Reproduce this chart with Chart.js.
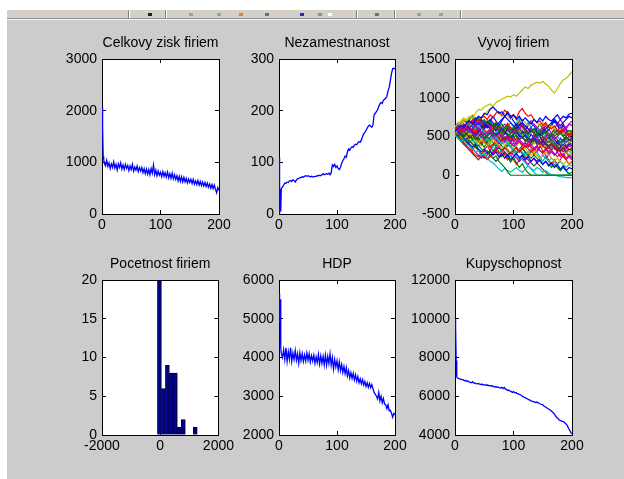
<!DOCTYPE html>
<html>
<head>
<meta charset="utf-8">
<script src="https://cdn.jsdelivr.net/npm/chart.js"></script>
<style>
  html, body { margin: 0; padding: 0; }
  html { background: #fff; }
  body { width: 624px; height: 500px; background: #fff; position: relative; overflow: hidden; }
  #toolbar { position: absolute; left: 7px; top: 10px; width: 617px; height: 8px; background: #d4d0c8; border-bottom: 1px solid #909090; }
  #figure { position: absolute; left: 7px; top: 19px; width: 617px; height: 481px; background: #cccccc; border-top: 1px solid #f4f4f4; }
  .sep { position: absolute; top: 0; width: 1px; height: 8px; background: #808080; border-right: 1px solid #fff; }
  .ico { position: absolute; top: 3px; width: 4px; height: 3px; }
  canvas { position: absolute; }
</style>
</head>
<body>
<div id="toolbar">
  <div class="sep" style="left:121px"></div>
  <div class="sep" style="left:158px"></div>
  <div class="sep" style="left:349px"></div>
  <div class="sep" style="left:387px"></div>
  <div class="sep" style="left:453px"></div>
  <div class="ico" style="left:141px;background:#202020"></div>
  <div class="ico" style="left:182px;background:#a0a0a0"></div>
  <div class="ico" style="left:210px;background:#a0a0a0"></div>
  <div class="ico" style="left:232px;background:#e08040"></div>
  <div class="ico" style="left:258px;background:#607090"></div>
  <div class="ico" style="left:293px;background:#2030d0"></div>
  <div class="ico" style="left:311px;background:#909090"></div>
  <div class="ico" style="left:321px;background:#ffffff"></div>
  <div class="ico" style="left:368px;background:#707070"></div>
  <div class="ico" style="left:410px;background:#a0a0a0"></div>
  <div class="ico" style="left:432px;background:#a0a0a0"></div>
</div>
<div id="figure"></div>
<script>
// time steps of the simulation (x axis for the aggregate series)
const steps = [0, 1, 2, 3, 4,
  6, 8, 10, 12, 14, 16, 18, 20, 22, 24,
  26, 28, 30, 32, 34, 36, 38, 40, 42, 44,
  46, 48, 50, 52, 54, 56, 58, 60, 62, 64,
  66, 68, 70, 72, 74, 76, 78, 80, 82, 84,
  86, 88, 90, 92, 94, 96, 98, 100, 102, 104,
  106, 108, 110, 112, 114, 116, 118, 120, 122, 124,
  126, 128, 130, 132, 134, 136, 138, 140, 142, 144,
  146, 148, 150, 152, 154, 156, 158, 160, 162, 164,
  166, 168, 170, 172, 174, 176, 178, 180, 182, 184,
  186, 188, 190, 192, 194, 196, 198, 200];

// Celkovy zisk firiem
const profitValues = [2050, 1700, 1120, 1050, 980,
  930, 1040, 920, 990, 880, 970, 900, 1010, 890, 960,
  850, 970, 900, 990, 870, 950, 860, 960, 880, 940,
  840, 930, 860, 960, 830, 910, 850, 930, 820, 900,
  830, 900, 800, 880, 780, 870, 770, 860, 760, 880,
  790, 950, 760, 850, 740, 830, 750, 810, 720, 820,
  730, 800, 710, 810, 700, 780, 690, 790, 680, 760,
  670, 740, 640, 730, 630, 720, 620, 710, 620, 690,
  600, 680, 610, 670, 590, 670, 580, 640, 570, 650,
  560, 630, 550, 620, 540, 610, 530, 600, 520, 580,
  500, 570, 490, 560, 480, 410, 510, 460];

// Nezamestnanost
const unemploymentValues = [110, 0, 48, 5, 50,
  52, 56, 60, 59, 62, 61, 64, 65, 63, 66,
  65, 62, 66, 68, 69, 70, 71, 72, 71, 73,
  74, 73, 74, 73, 72, 73, 72, 72, 73, 73,
  74, 74, 75, 74, 76, 78, 76, 77, 78, 77,
  79, 76, 80, 95, 92, 96, 90, 93, 88, 86,
  90, 98, 103, 107, 112, 110, 120, 126, 124, 128,
  130, 129, 133, 135, 134, 138, 140, 139, 143, 150,
  155, 158, 162, 166, 170, 172, 170, 168, 172, 192,
  195, 198, 202, 208, 213, 216, 214, 220, 222, 224,
  228, 238, 245, 258, 272, 281, 282, 281];

// HDP
const gdpValues = [5650, 4900, 5500, 4250, 4100,
  4000, 4200, 3950, 4250, 3900, 4150, 3950, 4250, 3900, 4120,
  3950, 4180, 3930, 4100, 3850, 4120, 3920, 4100, 3900, 4070,
  3910, 4120, 3930, 4100, 3880, 4050, 3910, 4060, 3850, 4020,
  3870, 4080, 3830, 4040, 3850, 4030, 3810, 4060, 3800, 4030,
  3850, 4100, 3800, 4000, 3700, 3950, 3760, 3920, 3680, 3890,
  3660, 3820, 3610, 3770, 3580, 3740, 3520, 3660, 3470, 3610,
  3460, 3590, 3420, 3550, 3390, 3510, 3350, 3450, 3320, 3430,
  3290, 3380, 3250, 3350, 3230, 3330, 3220, 3300, 3200, 3100,
  3050, 3000, 2930, 3100, 2880, 3000, 2830, 2940, 2800, 2780,
  2680, 2780, 2630, 2640, 2560, 2460, 2560, 2520];

// Kupyschopnost
const purchasingValues = [10000, 9600, 7850, 7000, 6950,
  6920, 6900, 6880, 6850, 6860, 6800, 6820, 6760, 6800, 6740,
  6720, 6700, 6750, 6680, 6690, 6650, 6640, 6660, 6620, 6600,
  6630, 6580, 6590, 6600, 6560, 6580, 6540, 6560, 6520, 6540,
  6500, 6480, 6500, 6460, 6470, 6440, 6420, 6460, 6400, 6450,
  6380, 6350, 6300, 6320, 6260, 6250, 6200, 6240, 6180, 6200,
  6150, 6120, 6100, 6080, 6020, 5980, 5960, 5920, 5900, 5860,
  5820, 5800, 5760, 5740, 5720, 5700, 5680, 5700, 5660, 5640,
  5600, 5580, 5560, 5500, 5460, 5420, 5380, 5340, 5300, 5260,
  5200, 5150, 5080, 4980, 4900, 4850, 4780, 4760, 4720, 4700,
  4680, 4620, 4560, 4480, 4350, 4250, 4120, 4060];

// Vyvoj firiem: every 5th step
const firmSteps = [0, 5, 10, 15, 20, 25, 30, 35, 40, 45, 50, 55, 60, 65, 70, 75, 80, 85, 90, 95,
  100, 105, 110, 115, 120, 125, 130, 135, 140, 145, 150, 155, 160, 165, 170, 175, 180, 185, 190, 195, 200];

const firmPaths = [
  [560,600,640,610,680,700,660,720,760,740, 800,780,850,880,840,800,820,760,800,740, 780,720,760,700,740,700,660,720,680,740, 700,760,720,700,740,780,720,760,740,790, 800],
  [540,500,520,470,430,450,400,360,390,340, 300,320,260,220,250,180,140,100,40,0, 0,0,0,0,0,0,0,0,0,0, 0,0,0,0,0,0,0,0,0,0, 0],
  [580,620,560,600,650,700,680,720,690,740, 760,720,780,740,800,820,780,840,800,760, 780,740,820,860,800,760,780,720,680,700, 640,680,620,600,640,580,560,600,540,520, 560],
  [520,480,440,460,400,380,340,300,320,260, 280,220,180,160,120,80,50,90,60,40, 70,100,60,40,80,120,90,60,100,80, 40,60,30,10,0,-10,-20,-20,-30,-30, -30],
  [600,640,620,580,620,560,600,640,600,560, 520,560,600,540,500,540,480,440,480,420, 460,400,440,380,420,360,400,340,380,320, 300,340,280,320,260,300,240,280,220,260, 240],
  [520,600,650,700,720,760,740,800,850,840, 880,900,920,890,940,960,980,1000,1020,1010, 1040,1020,1060,1100,1140,1120,1160,1180,1200,1190, 1210,1180,1150,1100,1060,1120,1180,1230,1250,1290, 1340],
  [560,520,560,500,540,480,520,460,500,540, 480,520,560,500,540,480,520,460,500,440, 480,520,460,500,440,480,420,460,400,440, 380,420,360,400,340,380,320,360,300,340, 320],
  [600,560,520,480,440,400,360,400,340,300, 340,280,320,260,300,240,280,220,260,200, 240,280,220,260,200,240,180,220,160,200, 140,180,120,160,100,140,80,120,60,100, 80],
  [580,620,660,700,680,720,760,700,740,680, 720,660,700,640,680,620,660,600,640,580, 620,560,600,540,580,520,560,600,540,580, 520,560,500,540,580,520,560,500,540,580, 560],
  [540,500,460,420,380,340,300,260,240,280, 240,200,240,280,320,280,320,360,320,280, 320,360,300,340,380,340,300,340,380,420, 380,340,380,420,380,340,300,340,380,420, 400],
  [560,600,640,600,640,680,640,600,640,600, 560,520,560,520,480,440,400,440,400,360, 320,280,240,200,160,120,80,40,0,0, 0,0,0,0,0,0,0,0,0,0, 0],
  [620,580,540,580,620,580,540,500,540,500, 460,500,540,500,460,420,460,500,460,420, 380,420,460,420,380,420,460,500,460,420, 460,500,540,500,460,500,540,580,540,500, 520],
  [500,540,500,460,500,540,500,460,420,460, 420,380,420,460,420,380,340,380,340,300, 340,380,420,380,340,300,260,300,260,220, 260,300,260,220,180,220,180,140,180,140, 160],
  [580,540,580,620,580,620,660,620,580,620, 660,700,660,620,660,620,580,620,580,540, 580,620,660,620,580,540,580,540,500,540, 580,540,500,460,500,460,420,460,500,460, 480],
  [560,600,560,600,640,600,560,520,560,600, 640,680,720,680,640,680,720,760,720,680, 640,600,640,680,640,600,560,600,560,520, 560,600,640,680,720,680,640,680,720,760, 740],
  [540,580,540,500,540,580,540,500,460,500, 540,500,540,580,620,580,540,580,540,500, 540,500,460,500,460,420,460,500,540,500, 540,580,540,500,540,580,540,500,460,500, 480],
  [600,560,600,560,520,480,520,480,440,400, 440,400,360,400,440,480,440,480,520,480, 440,480,440,400,360,400,360,320,360,320, 280,320,360,320,280,240,280,240,200,240, 220],
  [580,620,580,540,500,540,500,460,420,460, 420,380,420,460,500,460,420,460,420,380, 340,300,340,300,260,300,340,300,260,220, 260,220,180,220,180,140,180,140,100,140, 120],
  [540,580,620,660,620,660,700,740,700,660, 700,660,620,660,620,580,620,660,620,580, 540,580,620,580,540,580,620,660,620,580, 620,580,540,500,540,580,620,580,620,660, 640],
  [620,660,700,740,700,740,780,740,700,740, 780,820,860,880,840,800,760,800,760,720, 760,720,680,720,680,640,680,720,680,640, 680,640,600,640,600,560,600,560,520,560, 540],
  [560,520,480,440,480,440,400,360,320,280, 240,220,260,220,180,220,260,300,260,300, 340,300,340,380,420,380,420,460,420,460, 500,460,420,460,420,380,420,460,420,460, 440],
  [600,640,600,640,600,560,600,640,680,640, 600,640,600,560,520,560,600,560,520,480, 520,560,520,480,520,480,440,480,440,400, 440,400,360,400,360,320,360,400,360,400, 380],
  [540,500,540,580,540,500,460,500,460,420, 460,500,460,420,380,420,380,340,380,420, 380,340,300,340,300,260,220,260,220,180, 140,180,140,100,140,100,60,100,60,20, 40],
  [580,620,660,620,580,620,580,540,580,620, 580,540,580,540,500,540,580,540,580,620, 580,620,660,620,580,540,580,540,500,540, 500,460,500,540,500,540,580,540,500,540, 520],
  [540,500,540,500,460,420,460,420,380,420, 460,500,460,500,540,580,540,580,620,580, 540,580,540,500,540,500,460,500,460,500, 540,500,460,420,460,500,460,420,460,420, 440],
  [580,540,500,460,420,380,340,300,260,220, 260,300,260,300,340,380,340,300,260,300, 260,220,180,220,180,140,180,220,180,220, 260,220,260,300,260,300,340,300,340,380, 360],
  [600,640,680,720,680,640,680,720,680,640, 600,560,600,560,520,480,520,480,440,480, 520,560,520,480,520,480,440,400,440,400, 360,400,440,400,360,320,360,320,280,320, 300],
  [520,480,440,400,360,320,280,240,200,250, 220,260,300,280,320,360,320,360,400,360, 320,280,320,280,240,200,160,120,160,120, 80,40,0,0,0,0,0,0,0,0, 0],
  [580,640,590,660,610,690,630,700,650,720, 660,610,680,630,570,640,590,530,600,540, 610,560,500,570,520,460,530,480,550,500, 440,510,460,520,470,410,480,430,500,450, 470],
  [560,500,580,520,460,530,470,410,480,420, 360,430,380,310,370,300,240,300,230,170, 230,160,100,150,80,30,0,0,0,0, 0,0,0,0,0,0,0,0,0,0, 0],
  [600,660,610,550,620,680,620,560,630,690, 640,700,650,590,660,600,540,610,670,610, 550,620,560,500,570,510,450,520,460,400, 470,410,350,420,360,300,370,310,380,320, 340],
  [540,600,660,600,540,480,540,600,540,480, 420,480,420,360,420,360,300,360,300,240, 300,240,180,240,300,240,300,360,300,240, 180,240,180,120,180,120,60,120,60,0, 0],
  [600,540,600,660,600,660,720,660,600,540, 600,660,600,540,480,540,480,420,480,540, 600,540,600,660,600,540,600,540,480,540, 600,660,600,540,600,660,720,660,600,660, 700],
  [560,620,560,500,440,500,440,380,440,380, 440,500,440,500,560,500,440,380,440,380, 320,380,440,380,440,500,440,500,560,500, 440,380,440,500,440,380,320,380,320,260, 300],
  [620,560,500,560,620,680,620,680,740,680, 620,680,620,560,620,560,500,560,500,440, 500,440,500,560,500,440,380,440,500,440, 380,440,380,320,380,440,380,440,380,320, 360],
  [580,520,580,520,460,520,580,640,580,640, 700,640,700,760,700,640,700,760,820,760, 700,640,700,640,580,640,700,640,580,520, 580,640,580,640,700,640,580,640,580,520, 560],
  [600,660,600,540,600,540,480,540,600,540, 480,420,480,540,480,420,480,540,600,540, 600,660,600,660,600,540,600,540,600,660, 600,540,600,660,720,660,600,660,600,540, 580],
  [560,500,440,500,440,380,320,380,320,260, 320,380,320,380,440,380,320,260,200,260, 200,140,200,260,200,260,320,260,320,380, 320,260,200,140,200,140,200,260,200,140, 180],
  [620,680,620,560,620,680,620,560,500,560, 500,440,500,560,500,560,620,560,620,680, 620,680,740,680,620,680,620,560,620,560, 500,440,500,440,380,440,380,320,380,320, 260],
  [540,600,540,480,540,600,660,600,540,600, 540,480,420,480,420,360,420,480,420,360, 420,360,300,360,300,240,300,360,300,360, 420,360,300,360,420,360,300,240,300,240, 200]
];

// Pocetnost firiem (histogram of firm values)
const binCenters = [-27, 110, 247, 383, 520, 657, 794, 931, 1068, 1204];
const binCounts = [20, 6, 9, 8, 8, 1, 2, 0, 0, 1];

const FONT = "'Liberation Sans', Arial, sans-serif";
const matlabColors = ['#0000ff', '#008000', '#ff0000', '#00bfbf', '#bf00bf', '#bfbf00', '#404040'];

Chart.defaults.animation = false;
Chart.defaults.font.family = FONT;
Chart.defaults.color = '#000';

// white axes background
const plotBackground = {
  id: 'plotBackground',
  beforeDraw(chart) {
    const { ctx, chartArea } = chart;
    ctx.save();
    ctx.fillStyle = '#fff';
    ctx.fillRect(chartArea.left, chartArea.top, chartArea.width, chartArea.height);
    ctx.restore();
  }
};

// canvas around an axes box: 60px left, 22px right, 25px title, 30px x labels
function addCanvas(boxLeft, boxTop, boxWidth) {
  const c = document.createElement('canvas');
  c.width = boxWidth + 82;
  c.height = 210;
  c.style.left = (boxLeft - 60) + 'px';
  c.style.top = (boxTop - 25) + 'px';
  document.body.appendChild(c);
  return c;
}

// matlab style box with inward ticks on all four sides
function boxScales(xr, yr) {
  const tickFont = { family: FONT, size: 14 };
  const grid = { color: '#000', lineWidth: 1, drawOnChartArea: false, drawTicks: true, tickLength: -4, offset: false };
  const border = { display: true, color: '#000', width: 1 };
  const fmt = v => String(v);
  return {
    x: {
      type: 'linear', axis: 'x', position: 'bottom', min: xr[0], max: xr[1], offset: false, grid, border,
      ticks: { stepSize: xr[2], font: tickFont, color: '#000', padding: 7, maxRotation: 0, autoSkip: false, callback: fmt },
      afterFit: s => { s.height = 30; }
    },
    xTop: {
      type: 'linear', axis: 'x', position: 'top', min: xr[0], max: xr[1], offset: false, grid, border,
      ticks: { stepSize: xr[2], display: false },
      afterFit: s => { s.height = 0; }
    },
    y: {
      type: 'linear', axis: 'y', position: 'left', min: yr[0], max: yr[1], grid, border,
      ticks: { stepSize: yr[2], font: tickFont, color: '#000', padding: 9, autoSkip: false, callback: fmt },
      afterFit: s => { s.width = 60; }
    },
    yRight: {
      type: 'linear', axis: 'y', position: 'right', min: yr[0], max: yr[1], grid, border,
      ticks: { stepSize: yr[2], display: false },
      afterFit: s => { s.width = 22; }
    }
  };
}

function titleOptions(text) {
  return {
    display: true, text, fullSize: false, color: '#000',
    font: { family: FONT, size: 14, weight: 'normal', lineHeight: 1 },
    padding: { top: 2, bottom: 9 }
  };
}

function lineChart(box, title, datasets, xr, yr) {
  return new Chart(addCanvas(box[0], box[1], box[2]), {
    type: 'line',
    data: { datasets },
    options: {
      responsive: false,
      events: [],
      layout: { padding: 0 },
      elements: { point: { radius: 0 }, line: { tension: 0 } },
      plugins: { legend: { display: false }, tooltip: { enabled: false }, title: titleOptions(title) },
      scales: boxScales(xr, yr)
    },
    plugins: [plotBackground]
  });
}

function single(xs, ys) {
  return [{ data: xs.map((x, i) => ({ x, y: ys[i] })), borderColor: '#0000ff', borderWidth: 1.3 }];
}

// top row
lineChart([102, 59, 117], 'Celkovy zisk firiem', single(steps, profitValues), [0, 200, 100], [0, 3000, 1000]);
lineChart([279, 59, 116], 'Nezamestnanost', single(steps, unemploymentValues), [0, 200, 100], [0, 300, 100]);
lineChart([455, 59, 117], 'Vyvoj firiem',
  firmPaths.map((path, k) => ({
    data: firmSteps.map((x, i) => ({ x, y: path[i] })),
    borderColor: matlabColors[k % matlabColors.length],
    borderWidth: 1.2
  })),
  [0, 200, 100], [-500, 1500, 500]);

// bottom row
new Chart(addCanvas(102, 280, 117), {
  type: 'bar',
  data: {
    datasets: [{
      data: binCenters.map((x, i) => ({ x, y: binCounts[i] })),
      backgroundColor: '#00008f',
      borderColor: '#000',
      borderWidth: 1,
      barPercentage: 1,
      categoryPercentage: 1
    }]
  },
  options: {
    responsive: false,
    events: [],
    plugins: { legend: { display: false }, tooltip: { enabled: false }, title: titleOptions('Pocetnost firiem') },
    scales: boxScales([-2000, 2000, 2000], [0, 20, 5])
  },
  plugins: [plotBackground]
});
lineChart([279, 280, 116], 'HDP', single(steps, gdpValues), [0, 200, 100], [2000, 6000, 1000]);
lineChart([455, 280, 117], 'Kupyschopnost', single(steps, purchasingValues), [0, 200, 100], [4000, 12000, 2000]);
</script>
</body>
</html>
